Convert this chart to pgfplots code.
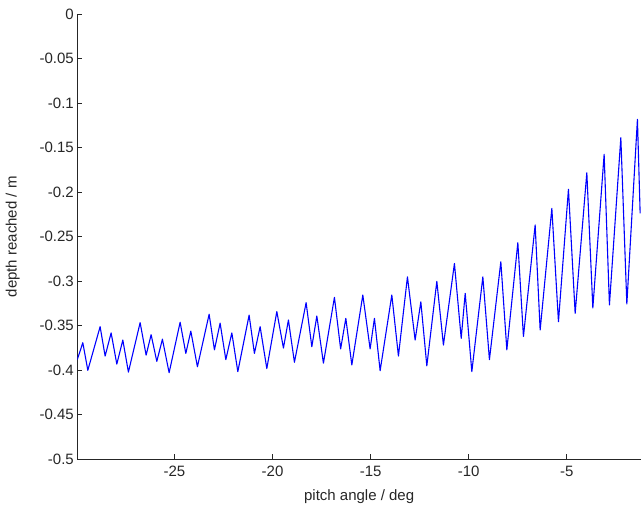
\documentclass[border=0pt]{standalone}
\usepackage{fontspec}
\setmainfont{Liberation Sans}
\usepackage{pgfplots}
\pgfplotsset{compat=1.18}
\begin{document}
\begin{tikzpicture}
\useasboundingbox (0,0) rectangle (641bp,511bp);
\begin{axis}[
  at={(77.3bp,51.7bp)}, anchor=south west,
  scale only axis, width=563.7bp, height=445bp,
  xmin=-29.95, xmax=-1.22, ymin=-0.5, ymax=0,
  axis lines*=left,
  axis line style={black!85, line width=0.8bp},
  tick align=inside, major tick length=5bp,
  tick style={black!85, line width=0.8bp},
  xtick={-25,-20,-15,-10,-5},
  xticklabels={-25,-20,-15,-10,-5},
  ytick={-0.5,-0.45,-0.4,-0.35,-0.3,-0.25,-0.2,-0.15,-0.1,-0.05,0},
  yticklabels={-0.5,-0.45,-0.4,-0.35,-0.3,-0.25,-0.2,-0.15,-0.1,-0.05,0},
  ticklabel style={font=\fontsize{15bp}{18bp}\selectfont, text=black!85},
  label style={font=\fontsize{15bp}{18bp}\selectfont, text=black!85},
  xticklabel style={yshift=-3bp},
  xlabel={pitch angle / deg},
  ylabel={depth reached / m},
  xlabel style={at={(axis description cs:0.5,0)}, anchor=north, yshift=-27bp},
  ylabel style={at={(axis description cs:0,0.5)}, anchor=south, xshift=0bp, yshift=54bp},
]
\addplot[blue, line width=1.1bp, line join=round] coordinates {
(-29.95,-0.388) (-29.669,-0.369) (-29.414,-0.400) (-28.787,-0.351) (-28.532,-0.384)
(-28.226,-0.358) (-27.936,-0.393) (-27.630,-0.366) (-27.345,-0.402) (-26.748,-0.3465)
(-26.442,-0.383) (-26.188,-0.360) (-25.897,-0.390) (-25.612,-0.365) (-25.270,-0.4027)
(-24.709,-0.346) (-24.419,-0.381) (-24.164,-0.356) (-23.828,-0.396) (-23.231,-0.337)
(-22.961,-0.377) (-22.671,-0.347) (-22.380,-0.388) (-22.074,-0.358) (-21.769,-0.4015)
(-21.193,-0.338) (-20.923,-0.381) (-20.632,-0.351) (-20.291,-0.398) (-19.781,-0.334)
(-19.444,-0.375) (-19.190,-0.3435) (-18.884,-0.391) (-18.288,-0.324) (-17.997,-0.3735)
(-17.742,-0.339) (-17.406,-0.392) (-16.845,-0.318) (-16.529,-0.376) (-16.264,-0.3416)
(-15.958,-0.394) (-15.398,-0.3154) (-15.026,-0.376) (-14.806,-0.3416) (-14.516,-0.4005)
(-13.920,-0.3154) (-13.583,-0.384) (-13.124,-0.295) (-12.732,-0.366) (-12.441,-0.323)
(-12.136,-0.395) (-11.626,-0.300) (-11.290,-0.3716) (-10.729,-0.280) (-10.384,-0.364)
(-10.180,-0.3135) (-9.842,-0.4015) (-9.281,-0.295) (-8.945,-0.388) (-8.364,-0.278)
(-8.058,-0.377) (-7.497,-0.2566) (-7.212,-0.362) (-6.615,-0.2367) (-6.360,-0.3547)
(-5.764,-0.218) (-5.427,-0.3454) (-4.918,-0.1966) (-4.576,-0.336) (-3.981,-0.178)
(-3.675,-0.330) (-3.099,-0.1573) (-2.829,-0.3266) (-2.248,-0.1386) (-1.942,-0.3255)
(-1.402,-0.118) (-1.264,-0.2236)
};
\end{axis}
\end{tikzpicture}
\end{document}
